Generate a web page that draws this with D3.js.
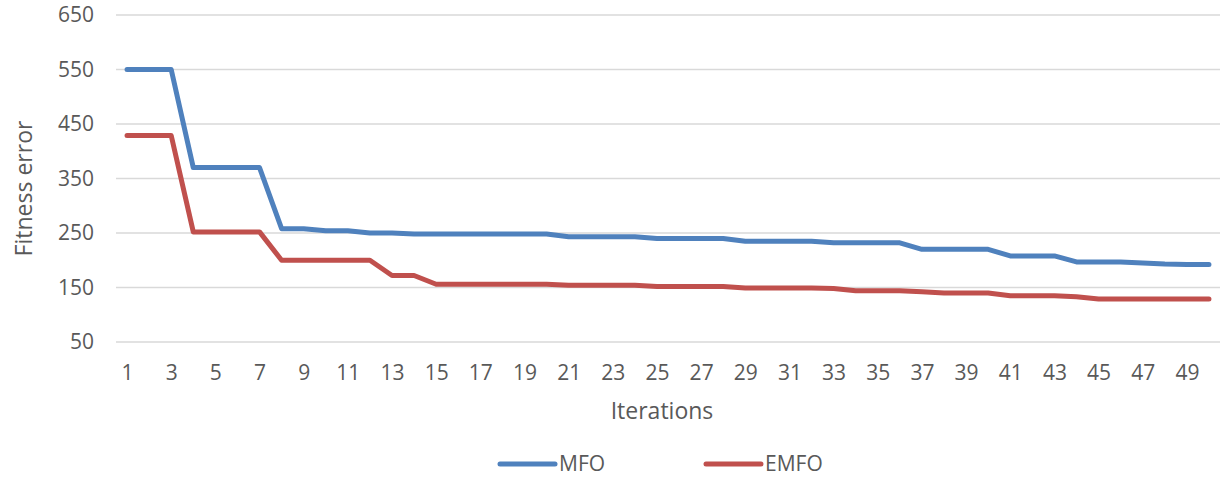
<!DOCTYPE html>
<html>
<head>
<meta charset="utf-8">
<script src="https://cdn.jsdelivr.net/npm/d3@7/dist/d3.min.js"></script>
<style>
  html, body { margin: 0; padding: 0; background: #fff; }
  svg { display: block; }
  text { font-family: "Open Sans", "Noto Sans", sans-serif; fill: #595959; }
</style>
</head>
<body>
<svg id="chart" width="1221" height="482"></svg>
<script>
// Convergence of the two optimisers over 50 iterations
const iterations = d3.range(1, 51);
const mfo = [550, 550, 550, 370, 370, 370, 370, 258, 258, 254,
             254, 250, 250, 248, 248, 248, 248, 248, 248, 248,
             243, 243, 243, 243, 240, 240, 240, 240, 235, 235,
             235, 235, 232, 232, 232, 232, 220, 220, 220, 220,
             208, 208, 208, 197, 197, 197, 195, 193, 192, 192];
const emfo = [429, 429, 429, 252, 252, 252, 252, 200, 200, 200,
              200, 200, 172, 172, 156, 156, 156, 156, 156, 156,
              154, 154, 154, 154, 152, 152, 152, 152, 149, 149,
              149, 149, 148, 144, 144, 144, 142, 140, 140, 140,
              135, 135, 135, 133, 129, 129, 129, 129, 129, 129];
const yTicks = [50, 150, 250, 350, 450, 550, 650];
const seriesNames = ["MFO", "EMFO"];
const seriesColors = ["#4F81BD", "#C0504D"];

const svg = d3.select("#chart");
const margin = { left: 116, right: 1, top: 15, bottom: 140 };
const width = 1221, height = 482;

const x = d3.scalePoint()
  .domain(iterations)
  .range([margin.left, width - margin.right])
  .padding(0.5);

const y = d3.scaleLinear()
  .domain([50, 650])
  .range([height - margin.bottom, margin.top]);

// horizontal gridlines
svg.append("g")
  .selectAll("line")
  .data(yTicks)
  .join("line")
  .attr("x1", margin.left)
  .attr("x2", width - margin.right)
  .attr("y1", d => y(d))
  .attr("y2", d => y(d))
  .attr("stroke", "#D9D9D9")
  .attr("stroke-width", 1.5);

// y axis labels
const yAxis = d3.axisLeft(y).tickValues(yTicks).tickSize(0).tickPadding(22);
svg.append("g")
  .attr("transform", `translate(${margin.left},0)`)
  .call(yAxis)
  .call(g => g.select(".domain").remove())
  .call(g => g.selectAll("text")
    .style("font-family", '"Open Sans", sans-serif')
    .style("font-size", "21px")
    .attr("fill", "#595959"));

// x axis labels (every other iteration)
const xAxis = d3.axisBottom(x)
  .tickValues(iterations.filter(d => d % 2 === 1))
  .tickSize(0)
  .tickPadding(0);
svg.append("g")
  .attr("transform", "translate(0,380)")
  .call(xAxis)
  .call(g => g.select(".domain").remove())
  .call(g => g.selectAll("text")
    .attr("y", 0)
    .attr("dy", 0)
    .style("font-family", '"Open Sans", sans-serif')
    .style("font-size", "21px")
    .attr("fill", "#595959"));

// axis titles
svg.append("text")
  .attr("x", 662)
  .attr("y", 419)
  .attr("text-anchor", "middle")
  .style("font-size", "23px")
  .text("Iterations");

svg.append("text")
  .attr("transform", "translate(31.5, 188.5) rotate(-90)")
  .attr("text-anchor", "middle")
  .style("font-size", "23px")
  .text("Fitness error");

// series lines
const line = d3.line()
  .x((d, i) => x(iterations[i]))
  .y(d => y(d));

[mfo, emfo].forEach((vals, k) => {
  svg.append("path")
    .datum(vals)
    .attr("fill", "none")
    .attr("stroke", seriesColors[k])
    .attr("stroke-width", 5)
    .attr("stroke-linejoin", "round")
    .attr("stroke-linecap", "round")
    .attr("d", line);
});

// legend
const legendX = [500, 706];
const legend = svg.append("g");
seriesNames.forEach((name, k) => {
  legend.append("line")
    .attr("x1", legendX[k])
    .attr("x2", legendX[k] + 55)
    .attr("y1", 464)
    .attr("y2", 464)
    .attr("stroke", seriesColors[k])
    .attr("stroke-width", 5)
    .attr("stroke-linecap", "round");
  legend.append("text")
    .attr("x", legendX[k] + 59)
    .attr("y", 471)
    .style("font-size", "21px")
    .text(name);
});
</script>
</body>
</html>
